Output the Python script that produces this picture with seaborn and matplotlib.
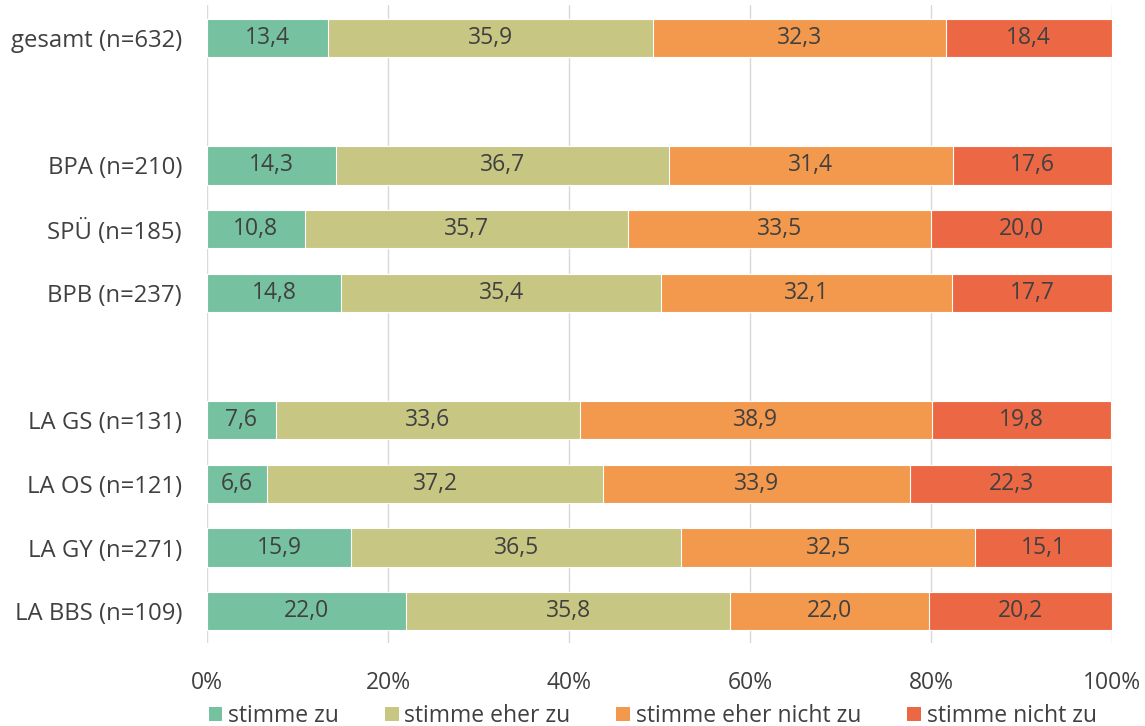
import numpy as np
import pandas as pd
import seaborn as sns
import matplotlib.pyplot as plt
from matplotlib.patches import Patch

# Daten
gruppen = ["gesamt (n=632)", "BPA (n=210)", "SPÜ (n=185)", "BPB (n=237)",
           "LA GS (n=131)", "LA OS (n=121)", "LA GY (n=271)", "LA BBS (n=109)"]
kategorien = ["stimme zu", "stimme eher zu", "stimme eher nicht zu", "stimme nicht zu"]
stimme_zu = [13.4, 14.3, 10.8, 14.8, 7.6, 6.6, 15.9, 22.0]
eher_zu = [35.9, 36.7, 35.7, 35.4, 33.6, 37.2, 36.5, 35.8]
eher_nicht_zu = [32.3, 31.4, 33.5, 32.1, 38.9, 33.9, 32.5, 22.0]
nicht_zu = [18.4, 17.6, 20.0, 17.7, 19.8, 22.3, 15.1, 20.2]

farben = ["#76C1A0", "#C7C683", "#F2994E", "#EC6845"]
textfarbe = "#404040"
fs = 16.5

# Reihenfolge mit Leerzeilen
order = [gruppen[0], "", gruppen[1], gruppen[2], gruppen[3], " ",
         gruppen[4], gruppen[5], gruppen[6], gruppen[7]]

df = pd.DataFrame({"gruppe": gruppen})
werte = [stimme_zu, eher_zu, eher_nicht_zu, nicht_zu]
for k, w in zip(kategorien, werte):
    df[k] = w

sns.set_style("white")
plt.rcParams['font.family'] = ['Open Sans', 'DejaVu Sans']

fig = plt.figure(figsize=(11.45, 7.26), dpi=100)
ax = fig.add_axes([0.1808, 0.1143, 0.9712 - 0.1808, 0.9931 - 0.1143])

kum = df[kategorien].cumsum(axis=1)
# gestapelt: von hinten nach vorne zeichnen
for i in range(len(kategorien) - 1, -1, -1):
    sns.barplot(data=kum, x=kum.columns[i], y=df["gruppe"], order=order,
                orient="h", color=farben[i], width=0.6, saturation=1,
                edgecolor="white", linewidth=0.8, ax=ax, zorder=3)

# Beschriftung der Segmente
pos = {g: order.index(g) for g in gruppen}
for r, g in enumerate(gruppen):
    links = 0
    for i, k in enumerate(kategorien):
        v = df.loc[r, k]
        ax.text(links + v / 2, pos[g], f"{v:.1f}".replace(".", ","),
                ha="center", va="center", fontsize=fs, color=textfarbe, zorder=4)
        links += v

ax.set_xlim(0, 100)
ax.set_ylim(9.5, -0.52)
ax.set_xticks(np.arange(0, 101, 20))
ax.set_xticklabels([f"{t}%" for t in range(0, 101, 20)])
ax.grid(axis="x", color="#D9D9D9", linewidth=1, zorder=0)
ax.set_axisbelow(True)
for s in ax.spines.values():
    s.set_visible(False)
ax.set_xlabel("")
ax.set_ylabel("")
ax.tick_params(axis="both", length=0, labelsize=fs, labelcolor=textfarbe)
ax.tick_params(axis="y", labelsize=17.2)
ax.tick_params(axis="x", pad=20)
ax.tick_params(axis="y", pad=18)

handles = [Patch(facecolor=f, edgecolor="none") for f in farben]
fig.legend(handles, kategorien, loc="lower center", bbox_to_anchor=(0.570, -0.031),
           ncol=4, frameon=False, fontsize=fs, labelcolor=textfarbe,
           handlelength=0.6, handleheight=0.6, handletextpad=0.25, columnspacing=2.0)

fig.savefig("out.png", dpi=100)
